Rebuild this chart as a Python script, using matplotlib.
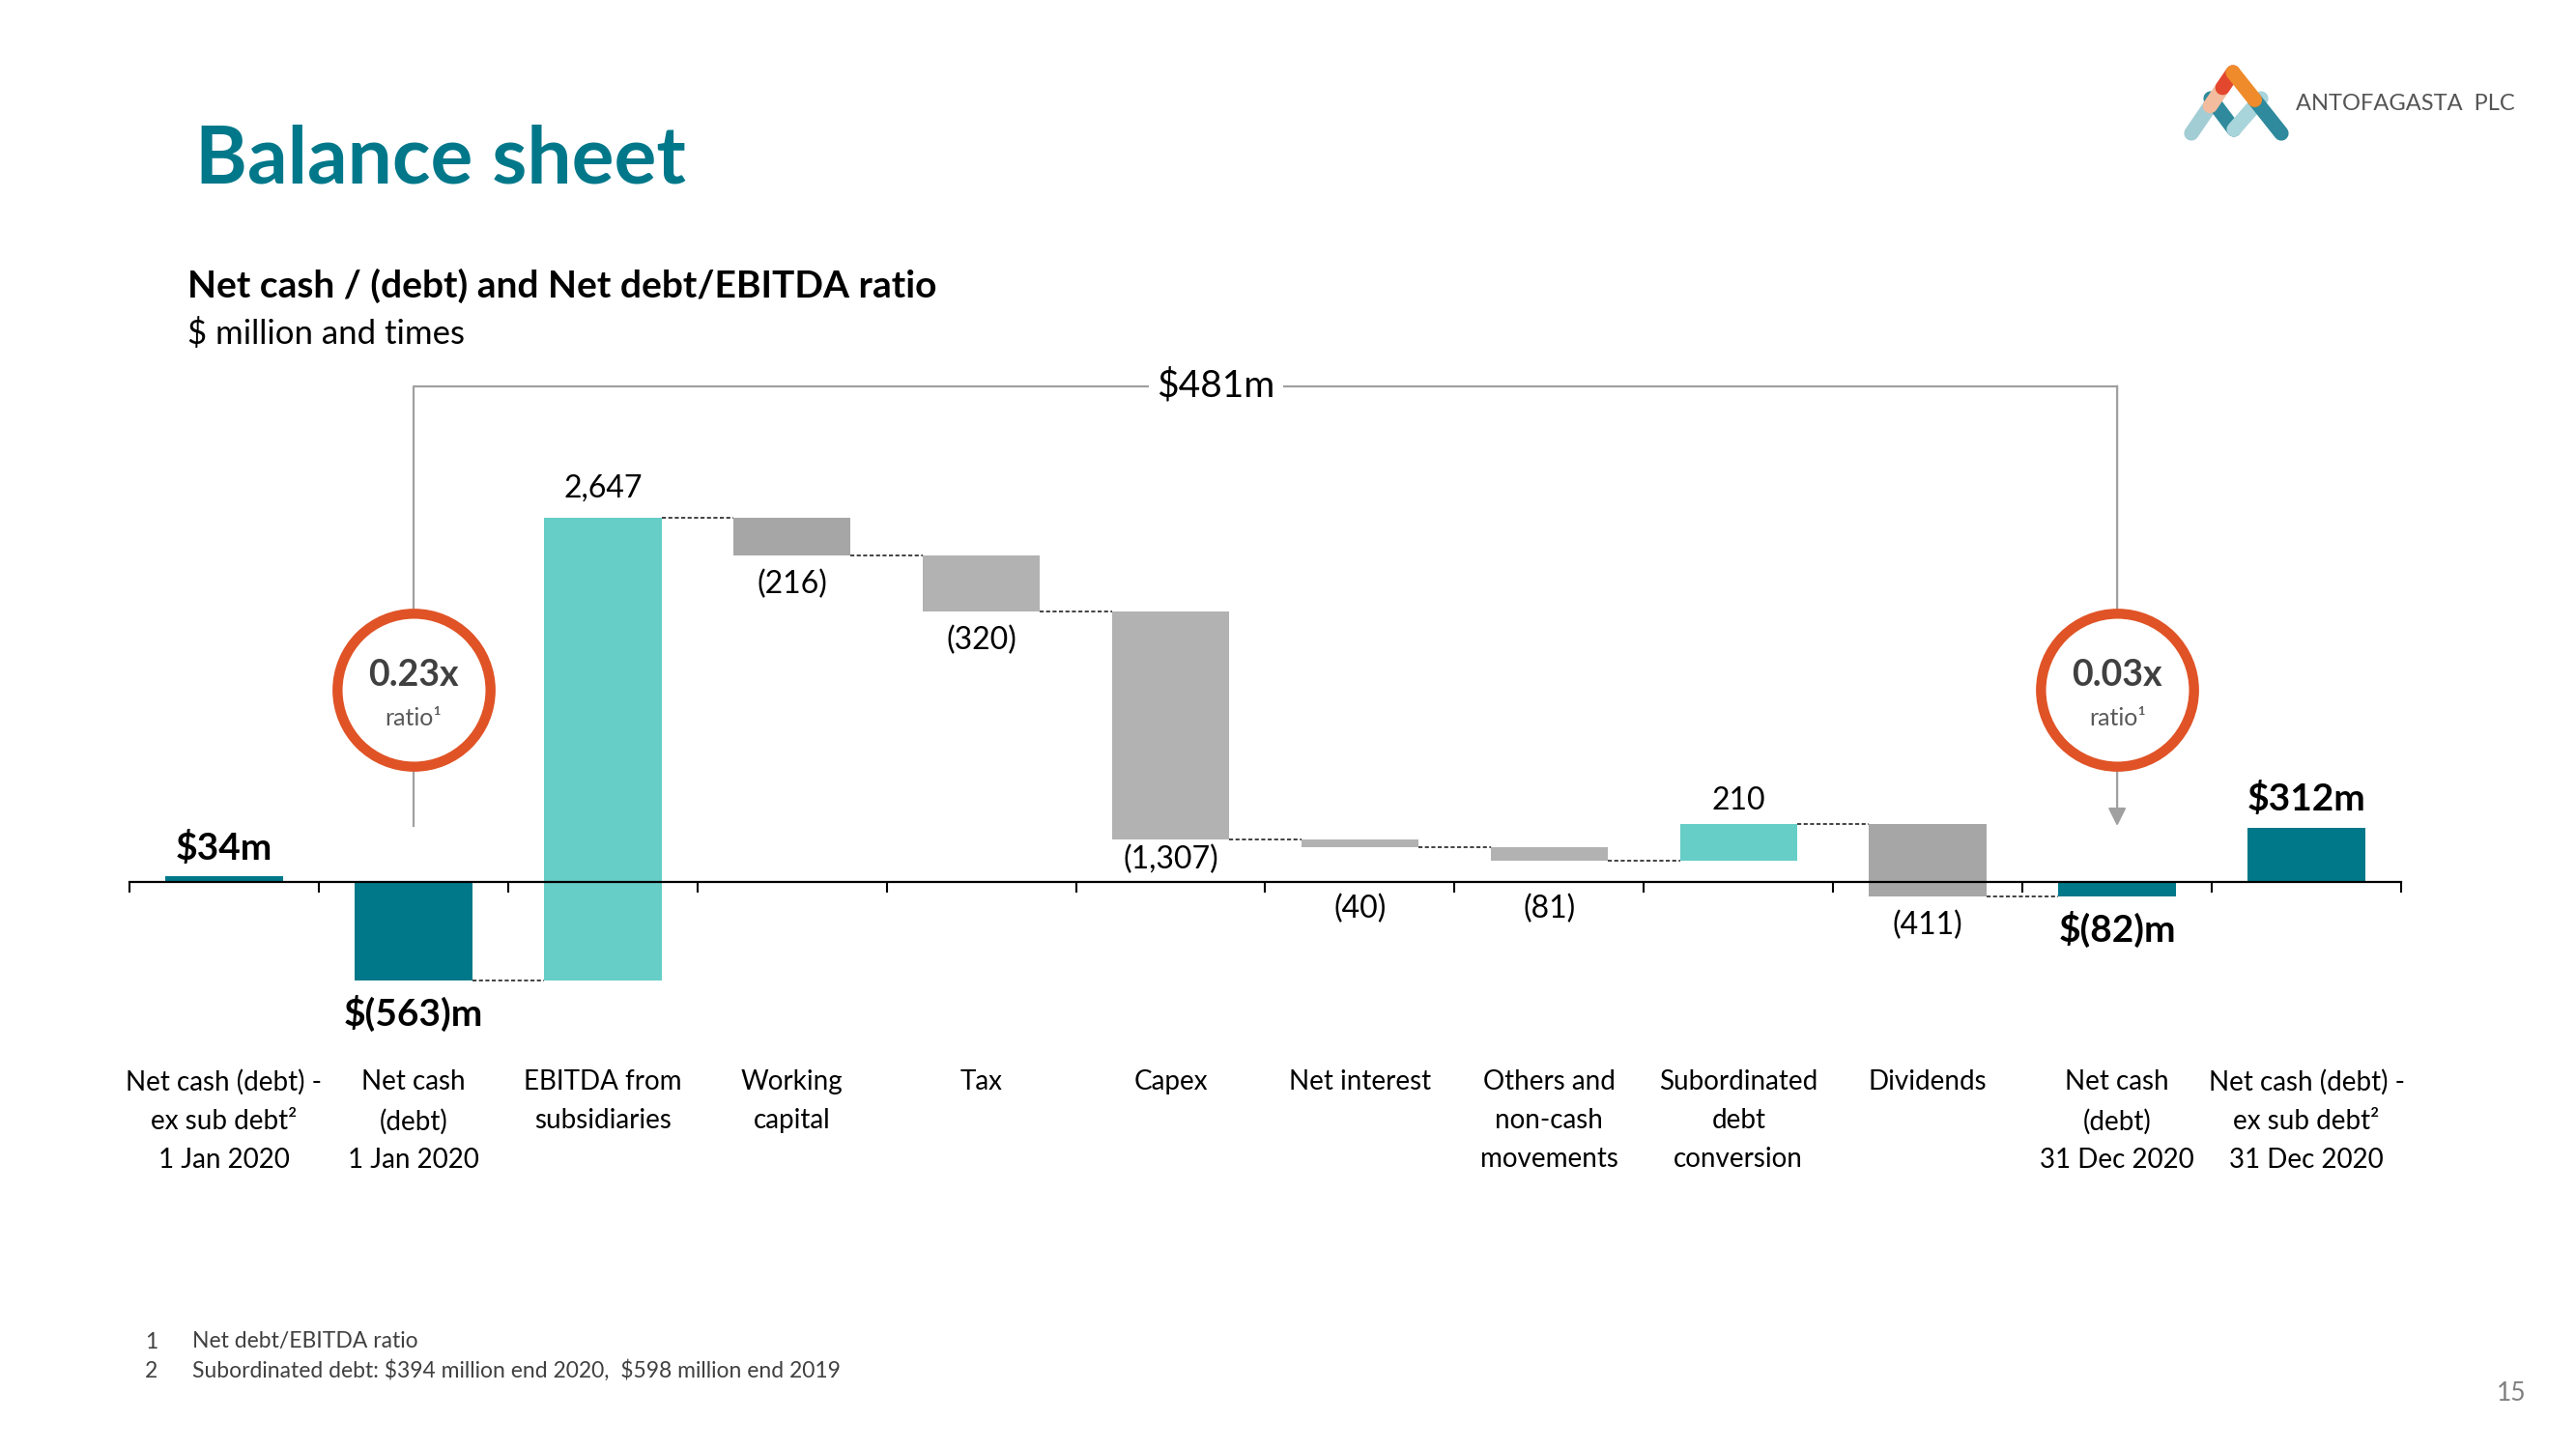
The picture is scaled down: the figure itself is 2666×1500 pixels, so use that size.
import numpy as np
import matplotlib.pyplot as plt
from matplotlib.transforms import blended_transform_factory

# =====================================
# DATA
# =====================================
categories = [
    "Net cash (debt) -\nex sub debt²\n1 Jan 2020",
    "Net cash\n(debt)\n1 Jan 2020",
    "EBITDA from\nsubsidiaries",
    "Working\ncapital",
    "Tax",
    "Capex",
    "Net interest",
    "Others and\nnon-cash\nmovements",
    "Subordinated\ndebt\nconversion",
    "Dividends",
    "Net cash\n(debt)\n31 Dec 2020",
    "Net cash (debt) -\nex sub debt²\n31 Dec 2020",
]
values   = [34, -563, 2647, -216, -320, -1307, -40, -81, 210, -411, -82, 312]
is_total = [True, True, False, False, False, False, False, False, False, False, True, True]

ratio_idx    = [1, 10]
ratio_labels = ["0.23x", "0.03x"]
change_label = "$481m"

footnotes = [
    ("1", "Net debt/EBITDA ratio"),
    ("2", "Subordinated debt: $394 million end 2020,  $598 million end 2019"),
]

# =====================================
# STYLE
# =====================================
DARK   = "#00788A"
LIGHT  = "#66CDC7"
GREY1  = "#A6A6A6"
GREY2  = "#B2B2B2"
ORANGE = "#E05326"
LINE   = "#A0A0A0"
bar_colors = [DARK, DARK, LIGHT, GREY1, GREY2, GREY2, GREY2, GREY2, LIGHT, GREY1, DARK, DARK]
label_pos  = ["top", "bottom", "top", "bottom", "bottom", "bottom", "axis", "axis", "top", "bottom", "bottom", "top"]
label_gap  = [8, 11, 11, 11, 11, 4, 9, 9, 7, 11, 11, 8]

plt.rcParams["font.family"] = ["Lato", "DejaVu Sans"]

W, H = 2666, 1500
fig = plt.figure(figsize=(W / 100, H / 100), dpi=100)
fig.patch.set_facecolor("white")

def fx(x):
    return x / W

def fy(y):
    return 1 - y / H

# =====================================
# WATERFALL GEOMETRY
# =====================================
bottoms, tops, ends = [], [], []
cum = 0
for v, tot in zip(values, is_total):
    if tot:
        lo, hi = min(0, v), max(0, v)
        cum = v
    else:
        start = cum
        cum = cum + v
        lo, hi = min(start, cum), max(start, cum)
    bottoms.append(lo)
    tops.append(hi)
    ends.append(cum)

x = np.arange(len(values))
BW = 0.62

ax = fig.add_axes([fx(134), fy(1094), fx(2485) - fx(134), fy(370) - fy(1094)])
ax.set_facecolor("none")
ax.set_xlim(-0.5, len(values) - 0.5)
ax.set_ylim(-1000, 3000)

ax.bar(x, np.array(tops) - np.array(bottoms), bottom=bottoms, width=BW,
       color=bar_colors, zorder=2)

# dashed connectors
for i in range(1, len(values) - 2):
    ax.plot([i + BW / 2, i + 1 - BW / 2], [ends[i], ends[i]], color="#222222",
            lw=1.2, dashes=(2.5, 1.5), zorder=2)

# axis
for s in ["top", "right", "left"]:
    ax.spines[s].set_visible(False)
ax.spines["bottom"].set_position(("data", 0))
ax.spines["bottom"].set_linewidth(1.6)
ax.spines["bottom"].set_zorder(4)
ax.set_xticks(np.arange(-0.5, len(values), 1))
ax.tick_params(axis="x", direction="out", length=8, width=1.5, labelbottom=False)
ax.set_yticks([])

# value labels
for i, v in enumerate(values):
    if is_total[i]:
        txt = f"${v}m" if v >= 0 else f"$({-v})m"
        kw = dict(fontsize=28, fontweight="bold")
    else:
        txt = f"{v:,}" if v > 0 else f"({-v:,})"
        kw = dict(fontsize=23)
    if label_pos[i] == "top":
        y0, dy, va = tops[i], label_gap[i], "bottom"
    elif label_pos[i] == "bottom":
        y0, dy, va = bottoms[i], -label_gap[i], "top"
    else:
        y0, dy, va = min(0, bottoms[i]), -label_gap[i], "top"
    ax.annotate(txt, (i, y0), xytext=(0, dy), textcoords="offset points",
                ha="center", va=va, color="black", **kw)

# category labels
trans = blended_transform_factory(ax.transData, fig.transFigure)
for i, c in enumerate(categories):
    ax.text(i, fy(1107), c, transform=trans, ha="center", va="top",
            fontsize=20, linespacing=1.66, color="black")

# bracket between the two net cash bars
BRK_Y, BRK_LOW = 2836, 320
left, right = ratio_idx
ax.plot([left, left, right], [BRK_LOW, BRK_Y, BRK_Y], color=LINE, lw=1.6, zorder=1)
ax.annotate("", xy=(right, BRK_LOW), xytext=(right, BRK_Y),
            arrowprops=dict(arrowstyle="-|>", color=LINE, lw=1.6, mutation_scale=28,
                            shrinkA=0, shrinkB=0), zorder=1)
ax.text(5.24, BRK_Y, change_label, ha="center", va="center", fontsize=28,
        color="black", bbox=dict(facecolor="white", edgecolor="none", pad=6), zorder=3)

# ratio circles
CIRC_Y = 1100
for xi, lab in zip(ratio_idx, ratio_labels):
    ax.plot([xi], [CIRC_Y], marker="o", ms=114, mfc="white", mec=ORANGE, mew=7.5,
            zorder=5, clip_on=False)
    ax.annotate(lab, (xi, CIRC_Y), xytext=(0, 11), textcoords="offset points",
                ha="center", va="center", fontsize=27, fontweight="bold",
                color="#404040", zorder=6)
    ax.annotate("ratio¹", (xi, CIRC_Y), xytext=(0, -21), textcoords="offset points",
                ha="center", va="center", fontsize=18, color="#595959", zorder=6)

# =====================================
# TITLES, LOGO, FOOTNOTES
# =====================================
fig.text(fx(202), fy(190), "Balance sheet", fontsize=59, fontweight="bold",
         color=DARK, ha="left", va="baseline")
fig.text(fx(194), fy(296), "Net cash / (debt) and Net debt/EBITDA ratio", fontsize=28,
         fontweight="bold", color="black", ha="left", va="center")
fig.text(fx(194), fy(345), "$ million and times", fontsize=25, color="black",
         ha="left", va="center")

over = fig.add_axes([0, 0, 1, 1])
over.set_zorder(-1)
over.set_xlim(0, W)
over.set_ylim(H, 0)
over.axis("off")

A, P, B = (2268, 138), (2311, 75), (2361, 138)
C, D, E = (2288, 102), (2312, 134), (2340, 102)

def seg(p, q, t0, t1, color):
    xs = [p[0] + (q[0] - p[0]) * t0, p[0] + (q[0] - p[0]) * t1]
    ys = [p[1] + (q[1] - p[1]) * t0, p[1] + (q[1] - p[1]) * t1]
    over.plot(xs, ys, color=color, lw=11, solid_capstyle="round")

seg(A, P, 0.0, 0.45, "#A3CDD5")
seg(C, D, 0.0, 1.0, "#2E8A9C")
seg(D, E, 0.0, 1.0, "#A8D4DB")
seg(P, B, 0.45, 1.0, "#2E8A9C")
seg(A, P, 0.45, 0.75, "#F3BC9E")
seg(A, P, 0.75, 1.0, "#E3472E")
seg(P, B, 0.0, 0.45, "#EF8B2B")

fig.text(fx(2376), fy(107), "ANTOFAGASTA  PLC", fontsize=17, color="#555555",
         ha="left", va="center")

for k, (num, note) in enumerate(footnotes):
    yy = fy(1389 + 30 * k)
    fig.text(fx(150), yy, num, fontsize=16.5, color="#404040", ha="left", va="center")
    fig.text(fx(199), yy, note, fontsize=16.5, color="#404040", ha="left", va="center",
             parse_math=False)

fig.text(fx(2599), fy(1442), "15", fontsize=19, color="#7F7F7F", ha="center", va="center")

fig.savefig("out.png", dpi=100, facecolor="white")
